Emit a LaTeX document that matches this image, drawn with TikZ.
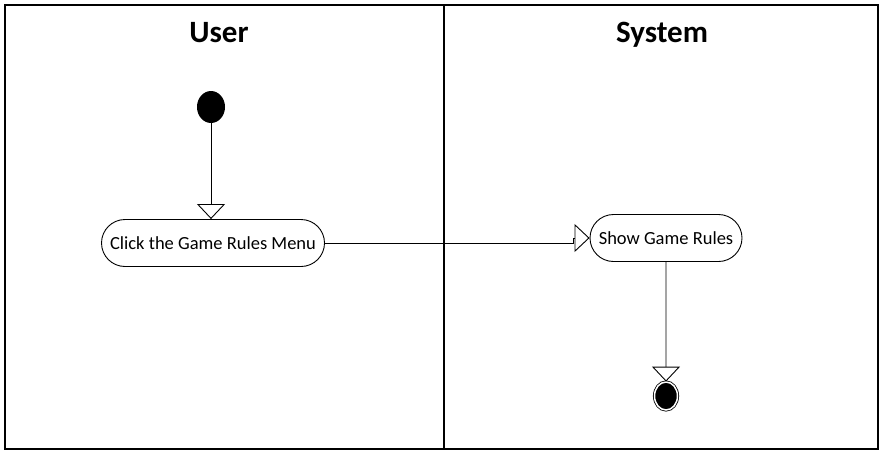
\documentclass[tikz,border=0pt]{standalone}
\usepackage{fontspec}
\setmainfont{Carlito}
\usetikzlibrary{arrows.meta,shapes.geometric,shapes.misc}

\begin{document}
\begin{tikzpicture}[x=1pt,y=-1pt,
  lane/.style={line width=1.2pt},
  flow/.style={line width=0.9pt,-{Triangle[open,length=15pt,width=28pt,line width=0.9pt]}},
  act/.style={draw,line width=0.9pt,rounded rectangle,minimum height=47pt,inner sep=0pt,font=\fontsize{18.5}{22}\selectfont},
  title/.style={anchor=base,font=\bfseries\fontsize{31}{36}\selectfont}]
  \useasboundingbox (0,0) rectangle (883,450);

  % Carriles
  \draw [lane] (5,5) rectangle (878,449);
  \draw [lane] (444,5) -- (444,449);
  \node [title] (user) at (219,42) {User};
  \node [title] (system) at (662,42) {System};

  % Nodos
  \node [ellipse,fill=black,minimum width=28pt,minimum height=32pt,inner sep=0pt] (start) at (211,107) {};
  \node [act,minimum width=223pt] (click) at (213,243) {Click the Game Rules Menu};
  \node [act,minimum width=152pt] (show) at (666,238) {Show Game Rules};
  \node [ellipse,fill=black,draw,double=white,double distance=1.5pt,line width=0.8pt,
    minimum width=23pt,minimum height=28pt,inner sep=0pt] (stop) at (666,396) {};

  % Flujo
  \draw [flow] (start) -- (start |- click.north);
  \draw [flow] (click.east) -- (573,243) |- (show.west);
  \draw [flow] (show) -- (show |- stop.north);
\end{tikzpicture}
\end{document}
